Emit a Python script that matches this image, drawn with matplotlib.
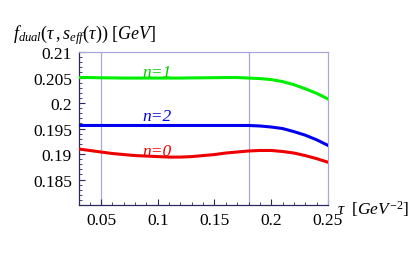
import matplotlib
matplotlib.use("Agg")
import matplotlib.pyplot as plt
from matplotlib.ticker import MultipleLocator

plt.rcParams['font.family'] = 'serif'
plt.rcParams['font.serif'] = ['Liberation Serif', 'DejaVu Serif']
plt.rcParams['mathtext.fontset'] = 'custom'
plt.rcParams['mathtext.rm'] = 'Liberation Serif'
plt.rcParams['mathtext.it'] = 'Liberation Serif:italic'

# tau values [GeV^-2]
tau = [0.03, 0.04, 0.05, 0.06, 0.07, 0.08, 0.09, 0.10, 0.11, 0.12, 0.13, 0.14,
       0.15, 0.16, 0.17, 0.18, 0.19, 0.20, 0.21, 0.22, 0.23, 0.24, 0.25]

# f_dual for n=1, n=2, n=0
f_n1 = [0.2050, 0.2050, 0.20495, 0.20493, 0.2049, 0.2049, 0.2049, 0.2049, 0.2049,
        0.2049, 0.20493, 0.20495, 0.20497, 0.2050, 0.2050, 0.2049, 0.2048, 0.2046,
        0.2042, 0.2036, 0.2028, 0.2019, 0.2008]
f_n2 = [0.1956, 0.1956, 0.1956, 0.1956, 0.1956, 0.1956, 0.1956, 0.1956, 0.1956,
        0.1956, 0.1956, 0.1956, 0.1956, 0.1956, 0.1956, 0.1956, 0.1955, 0.1953,
        0.1950, 0.1944, 0.1937, 0.1928, 0.1917]
f_n0 = [0.1910, 0.1907, 0.1904, 0.1901, 0.1899, 0.1897, 0.1896, 0.1895, 0.1894,
        0.1894, 0.1895, 0.1897, 0.1899, 0.1902, 0.1904, 0.1906, 0.1907, 0.1907,
        0.1905, 0.1902, 0.1897, 0.1891, 0.1884]

tau_lines = [0.05, 0.18]

fig = plt.figure(figsize=(4.13, 2.55), dpi=100)
ax = fig.add_axes([0.191, 0.192, 0.603, 0.600])

grid_col = '#a8a8d8'
axis_col = '#2a2a5a'
serif = 'Liberation Serif'

for t in tau_lines:
    ax.axvline(t, color=grid_col, lw=0.9, zorder=1)

ax.plot(tau, f_n1, color='#00ee00', lw=2.2, zorder=3)
ax.plot(tau, f_n2, color='#0000ee', lw=2.2, zorder=3)
ax.plot(tau, f_n0, color='#ee0000', lw=2.2, zorder=3)

lab = dict(fontsize=12.5, style='italic', ha='center', va='baseline', family=serif)
ax.text(0.099, 0.2053, 'n=1', color='#00cc00', **lab)
ax.text(0.099, 0.1967, 'n=2', color='#0000dd', **lab)
ax.text(0.099, 0.1898, 'n=0', color='#ee0000', **lab)

ax.set_xlim(0.0305, 0.25)
ax.set_ylim(0.18, 0.21)
ax.xaxis.set_minor_locator(MultipleLocator(0.01))
ax.yaxis.set_minor_locator(MultipleLocator(0.001))
ax.set_xticks([0.05, 0.1, 0.15, 0.2, 0.25])
ax.set_xticklabels(['0.05', '0.1', '0.15', '0.2', '0.25'], family=serif)
ax.set_yticks([0.185, 0.19, 0.195, 0.2, 0.205, 0.21])
ax.set_yticklabels(['0.185', '0.19', '0.195', '0.2', '0.205', '0.21'], family=serif)

ax.tick_params(which='both', direction='in', color=axis_col, labelsize=12.5, labelcolor='black')
ax.tick_params(which='major', length=4, width=0.8)
ax.tick_params(which='minor', length=2, width=0.6)
ax.tick_params(axis='x', pad=5)
ax.tick_params(axis='y', pad=5)

for s in ['left', 'bottom']:
    ax.spines[s].set_color(axis_col)
    ax.spines[s].set_linewidth(0.9)
for s in ['top', 'right']:
    ax.spines[s].set_color(grid_col)
    ax.spines[s].set_linewidth(0.9)

fig.text(0.032, 0.862, r'$f_{dual}(\tau\,,s_{eff}(\tau))\ [GeV]$', fontsize=13, ha='left', va='center')
fig.text(0.815, 0.18, r'$\tau\ \ [GeV^{-2}]$', fontsize=12.5, ha='left', va='center')

fig.savefig('out.png', dpi=100)
